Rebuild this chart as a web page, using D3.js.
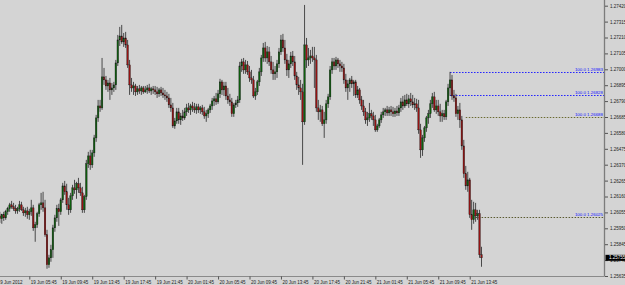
<!DOCTYPE html>
<html>
<head>
<meta charset="utf-8">
<script src="https://cdn.jsdelivr.net/npm/d3@7"></script>
<style>
html, body { margin: 0; padding: 0; background: #d4d4d4; overflow: hidden; }
svg { display: block; font-family: "Liberation Sans", Arial, sans-serif; }
</style>
</head>
<body>
<div id="chart"></div>
<script>
// EURUSD-like M15 bars, 19 Jun 01:45 -> 21 Jun 15:15 (2012)
var startTime = "2012-06-19T01:45";
var barMinutes = 15;

var opens = [
1.26019,1.26032,1.26013,1.26039,1.26019,1.26059,1.26079,1.26105,1.26092,1.26079,
1.26065,1.26079,1.26105,1.26072,1.26052,1.26065,1.26039,1.26059,1.26085,1.25953,
1.25973,1.26046,1.26105,1.26118,1.26085,1.25907,1.25709,1.25755,1.25808,1.25953,
1.26019,1.26079,1.26059,1.26138,1.26230,1.26191,1.26105,1.26072,1.26164,1.26217,
1.26204,1.26244,1.26217,1.26184,1.26072,1.26158,1.26376,1.26428,1.26369,1.26448,
1.26547,1.26679,1.26758,1.26745,1.26950,1.26930,1.26890,1.26910,1.26864,1.26877,
1.26897,1.27042,1.27194,1.27220,1.27181,1.27207,1.27161,1.27029,1.26897,1.26877,
1.26890,1.26851,1.26871,1.26857,1.26877,1.26851,1.26864,1.26877,1.26857,1.26871,
1.26864,1.26851,1.26838,1.26864,1.26844,1.26831,1.26824,1.26811,1.26765,1.26745,
1.26626,1.26659,1.26719,1.26666,1.26692,1.26679,1.26719,1.26745,1.26732,1.26758,
1.26745,1.26732,1.26752,1.26732,1.26745,1.26719,1.26692,1.26706,1.26732,1.26758,
1.26791,1.26805,1.26785,1.26838,1.26917,1.26864,1.26890,1.26824,1.26798,1.26785,
1.26706,1.26765,1.26778,1.26798,1.27022,1.27049,1.26996,1.27029,1.26983,1.26943,
1.26930,1.26824,1.26851,1.26917,1.26983,1.27075,1.27141,1.27075,1.27115,1.27049,
1.26996,1.26970,1.26983,1.27036,1.27115,1.27194,1.27141,1.27062,1.26996,1.27036,
1.27088,1.27049,1.26956,1.26897,1.26877,1.26851,1.26653,1.27161,1.27062,1.27075,
1.27088,1.27075,1.27062,1.26745,1.26719,1.26732,1.26640,1.26666,1.26772,1.26818,
1.26996,1.27049,1.27022,1.27062,1.27036,1.27022,1.27009,1.26930,1.26877,1.26904,
1.26930,1.26904,1.26917,1.26831,1.26864,1.26798,1.26758,1.26719,1.26666,1.26679,
1.26706,1.26692,1.26666,1.26600,1.26626,1.26666,1.26699,1.26719,1.26732,1.26712,
1.26732,1.26719,1.26706,1.26725,1.26712,1.26745,1.26785,1.26758,1.26798,1.26772,
1.26805,1.26785,1.26765,1.26772,1.26745,1.26600,1.26468,1.26547,1.26613,1.26679,
1.26706,1.26772,1.26818,1.26732,1.26758,1.26719,1.26692,1.26706,1.26686,1.26785,
1.26877,1.26930,1.26824,1.26811,1.26706,1.26732,1.26666,1.26494,1.26310,1.26230,
1.26270,1.26039,1.26006,1.26072,1.26032,1.26046,1.25775
];
var highs = [
1.26059,1.26059,1.26046,1.26059,1.26072,1.26092,1.26118,1.26131,1.26118,1.26105,
1.26092,1.26131,1.26125,1.26092,1.26085,1.26092,1.26079,1.26138,1.26105,1.25993,
1.26059,1.26118,1.26184,1.26191,1.26138,1.25940,1.25775,1.25841,1.25973,1.26039,
1.26105,1.26112,1.26151,1.26250,1.26263,1.26244,1.26151,1.26184,1.26237,1.26270,
1.26257,1.26283,1.26250,1.26224,1.26171,1.26402,1.26455,1.26468,1.26468,1.26567,
1.26699,1.26798,1.26798,1.27075,1.27009,1.26956,1.26930,1.26943,1.26910,1.26917,
1.27062,1.27227,1.27280,1.27293,1.27240,1.27247,1.27194,1.27062,1.26943,1.26917,
1.26904,1.26890,1.26897,1.26890,1.26890,1.26890,1.26897,1.26904,1.26884,1.26890,
1.26890,1.26884,1.26877,1.26884,1.26877,1.26864,1.26851,1.26838,1.26811,1.26778,
1.26679,1.26745,1.26745,1.26712,1.26732,1.26745,1.26772,1.26778,1.26772,1.26785,
1.26778,1.26772,1.26772,1.26758,1.26765,1.26752,1.26732,1.26745,1.26772,1.26811,
1.26824,1.26844,1.26864,1.26937,1.26930,1.26917,1.26917,1.26877,1.26838,1.26811,
1.26778,1.26798,1.26824,1.27049,1.27069,1.27075,1.27062,1.27055,1.27022,1.26996,
1.26956,1.26877,1.26930,1.27009,1.27095,1.27174,1.27181,1.27154,1.27148,1.27088,
1.27049,1.27022,1.27062,1.27141,1.27227,1.27234,1.27194,1.27102,1.27062,1.27115,
1.27121,1.27088,1.26983,1.26950,1.26930,1.26904,1.27425,1.27207,1.27141,1.27128,
1.27148,1.27148,1.27095,1.26798,1.26765,1.26758,1.26719,1.26798,1.26838,1.27022,
1.27075,1.27075,1.27082,1.27075,1.27062,1.27049,1.27036,1.26970,1.26930,1.26943,
1.26956,1.26930,1.26930,1.26890,1.26877,1.26824,1.26798,1.26745,1.26719,1.26778,
1.26732,1.26719,1.26699,1.26640,1.26679,1.26719,1.26745,1.26745,1.26758,1.26752,
1.26758,1.26752,1.26745,1.26758,1.26765,1.26811,1.26824,1.26831,1.26838,1.26831,
1.26844,1.26831,1.26811,1.26805,1.26798,1.26640,1.26567,1.26626,1.26692,1.26732,
1.26798,1.26844,1.26851,1.26798,1.26798,1.26772,1.26732,1.26732,1.26798,1.26904,
1.26983,1.26963,1.26864,1.26838,1.26758,1.26778,1.26692,1.26534,1.26362,1.26323,
1.26283,1.26138,1.26125,1.26118,1.26072,1.26072,1.25828
];
var lows = [
1.25980,1.25986,1.25980,1.25999,1.26006,1.26039,1.26059,1.26079,1.26065,1.26046,
1.26046,1.26059,1.26065,1.26032,1.26026,1.26013,1.26006,1.26032,1.25933,1.25861,
1.25953,1.26026,1.26072,1.26059,1.25894,1.25683,1.25689,1.25729,1.25755,1.25927,
1.25993,1.25966,1.26039,1.26118,1.26171,1.26072,1.26039,1.26052,1.26138,1.26178,
1.26145,1.26184,1.26164,1.26052,1.26052,1.26138,1.26349,1.26336,1.26349,1.26422,
1.26521,1.26653,1.26719,1.26732,1.26897,1.26864,1.26851,1.26798,1.26831,1.26851,
1.26864,1.27022,1.27154,1.27168,1.27148,1.27141,1.27009,1.26831,1.26851,1.26831,
1.26824,1.26831,1.26838,1.26831,1.26838,1.26844,1.26838,1.26844,1.26831,1.26838,
1.26831,1.26811,1.26818,1.26824,1.26811,1.26798,1.26785,1.26745,1.26719,1.26613,
1.26607,1.26640,1.26640,1.26633,1.26659,1.26666,1.26692,1.26712,1.26699,1.26719,
1.26712,1.26706,1.26712,1.26706,1.26699,1.26673,1.26653,1.26679,1.26712,1.26732,
1.26758,1.26765,1.26772,1.26811,1.26831,1.26824,1.26798,1.26772,1.26758,1.26686,
1.26686,1.26745,1.26752,1.26778,1.26983,1.26970,1.26970,1.26963,1.26917,1.26904,
1.26811,1.26798,1.26831,1.26890,1.26956,1.27049,1.27049,1.27036,1.27022,1.26970,
1.26930,1.26930,1.26943,1.27009,1.27095,1.27115,1.27036,1.26956,1.26943,1.27009,
1.27022,1.26930,1.26864,1.26831,1.26798,1.26369,1.26633,1.27009,1.27022,1.27036,
1.27049,1.26877,1.26719,1.26666,1.26653,1.26626,1.26547,1.26640,1.26745,1.26798,
1.26970,1.26996,1.26996,1.27009,1.26983,1.26983,1.26904,1.26851,1.26798,1.26851,
1.26877,1.26824,1.26811,1.26811,1.26772,1.26732,1.26692,1.26640,1.26626,1.26653,
1.26666,1.26626,1.26587,1.26587,1.26613,1.26646,1.26679,1.26692,1.26692,1.26692,
1.26692,1.26686,1.26686,1.26692,1.26692,1.26719,1.26732,1.26745,1.26758,1.26745,
1.26758,1.26745,1.26732,1.26719,1.26574,1.26415,1.26428,1.26521,1.26587,1.26640,
1.26679,1.26745,1.26719,1.26706,1.26692,1.26653,1.26653,1.26666,1.26666,1.26758,
1.26824,1.26798,1.26785,1.26686,1.26666,1.26613,1.26468,1.26283,1.26204,1.26191,
1.26019,1.25940,1.25980,1.25993,1.26006,1.25755,1.25696
];
var closes = [
1.26032,1.26013,1.26039,1.26019,1.26059,1.26079,1.26105,1.26092,1.26079,1.26065,
1.26079,1.26105,1.26072,1.26052,1.26065,1.26039,1.26059,1.26085,1.25953,1.25973,
1.26046,1.26105,1.26118,1.26085,1.25907,1.25709,1.25755,1.25808,1.25953,1.26019,
1.26079,1.26059,1.26138,1.26230,1.26191,1.26105,1.26072,1.26164,1.26217,1.26204,
1.26244,1.26217,1.26184,1.26072,1.26158,1.26376,1.26428,1.26369,1.26448,1.26547,
1.26679,1.26758,1.26745,1.26950,1.26930,1.26890,1.26910,1.26864,1.26877,1.26897,
1.27042,1.27194,1.27220,1.27181,1.27207,1.27161,1.27029,1.26897,1.26877,1.26890,
1.26851,1.26871,1.26857,1.26877,1.26851,1.26864,1.26877,1.26857,1.26871,1.26864,
1.26851,1.26838,1.26864,1.26844,1.26831,1.26824,1.26811,1.26765,1.26745,1.26626,
1.26659,1.26719,1.26666,1.26692,1.26679,1.26719,1.26745,1.26732,1.26758,1.26745,
1.26732,1.26752,1.26732,1.26745,1.26719,1.26692,1.26706,1.26732,1.26758,1.26791,
1.26805,1.26785,1.26838,1.26917,1.26864,1.26890,1.26824,1.26798,1.26785,1.26706,
1.26765,1.26778,1.26798,1.27022,1.27049,1.26996,1.27029,1.26983,1.26943,1.26930,
1.26824,1.26851,1.26917,1.26983,1.27075,1.27141,1.27075,1.27115,1.27049,1.26996,
1.26970,1.26983,1.27036,1.27115,1.27194,1.27141,1.27062,1.26996,1.27036,1.27088,
1.27049,1.26956,1.26897,1.26877,1.26851,1.26653,1.27161,1.27062,1.27075,1.27088,
1.27075,1.27062,1.26745,1.26719,1.26732,1.26640,1.26666,1.26772,1.26818,1.26996,
1.27049,1.27022,1.27062,1.27036,1.27022,1.27009,1.26930,1.26877,1.26904,1.26930,
1.26904,1.26917,1.26831,1.26864,1.26798,1.26758,1.26719,1.26666,1.26679,1.26706,
1.26692,1.26666,1.26600,1.26626,1.26666,1.26699,1.26719,1.26732,1.26712,1.26732,
1.26719,1.26706,1.26725,1.26712,1.26745,1.26785,1.26758,1.26798,1.26772,1.26805,
1.26785,1.26765,1.26772,1.26745,1.26600,1.26468,1.26547,1.26613,1.26679,1.26706,
1.26772,1.26818,1.26732,1.26758,1.26719,1.26692,1.26706,1.26686,1.26785,1.26877,
1.26930,1.26824,1.26811,1.26706,1.26732,1.26666,1.26494,1.26310,1.26230,1.26270,
1.26039,1.26006,1.26072,1.26032,1.26046,1.25775,1.25755
];

var priceTicks = [1.27420, 1.27315, 1.27210, 1.27105, 1.27000, 1.26895, 1.26790, 1.26685, 1.26580,
	1.26475, 1.26370, 1.26265, 1.26160, 1.26055, 1.25950, 1.25845, 1.25740, 1.25635];

var timeTicks = ["2012-06-19T01:45", "2012-06-19T05:45", "2012-06-19T09:45", "2012-06-19T13:45",
	"2012-06-19T17:45", "2012-06-19T21:45", "2012-06-20T01:45", "2012-06-20T05:45",
	"2012-06-20T09:45", "2012-06-20T13:45", "2012-06-20T17:45", "2012-06-20T21:45",
	"2012-06-21T01:45", "2012-06-21T05:45", "2012-06-21T09:45", "2012-06-21T13:45"];
var timeTickLabels = ["19 Jun 2012", "19 Jun 05:45", "19 Jun 09:45", "19 Jun 13:45",
	"19 Jun 17:45", "19 Jun 21:45", "20 Jun 01:45", "20 Jun 05:45",
	"20 Jun 09:45", "20 Jun 13:45", "20 Jun 17:45", "20 Jun 21:45",
	"21 Jun 01:45", "21 Jun 05:45", "21 Jun 09:45", "21 Jun 13:45"];

// horizontal level objects
var levelPrices = [1.26983, 1.26828, 1.26688, 1.26025];
var levelStarts = ["2012-06-21T11:15", "2012-06-21T11:15", "2012-06-21T13:15", "2012-06-21T14:30"];
var levelLabels = ["100.0 1.26983", "100.0 1.26828", "100.0 1.26688", "100.0 1.26025"];
var levelColors = ["#2020ff", "#2020ff", "#6a6a30", "#5a5a30"];

var lastPrice = 1.25755;

var W = 625, H = 285,
	plotRight = 604,
	plotBottom = 276;

var parse = d3.timeParse("%Y-%m-%dT%H:%M");
var t0 = parse(startTime);

var bars = closes.map(function(c, i) {
	return {t: d3.timeMinute.offset(t0, i * barMinutes), o: opens[i], h: highs[i], l: lows[i], c: c};
});

var x = d3.scaleTime()
	.domain([t0, bars[bars.length - 1].t])
	.range([-2.15, 481.5]);

var y = d3.scaleLinear()
	.domain([1.25635, 1.27420])
	.range([plotBottom, 5.7]);

var svg = d3.select("#chart").append("svg")
	.attr("width", W)
	.attr("height", H);

svg.append("rect")
	.attr("width", W).attr("height", H)
	.attr("fill", "#d4d4d4");

var plot = svg.append("g");

// level lines (behind candles)
var levels = plot.selectAll(".level")
	.data(levelPrices)
	.enter().append("g")
	.attr("class", "level");
levels.append("line")
	.attr("x1", function(d, i) { return x(parse(levelStarts[i])); })
	.attr("x2", plotRight)
	.attr("y1", function(d) { return Math.round(y(d)) + 0.5; })
	.attr("y2", function(d) { return Math.round(y(d)) + 0.5; })
	.attr("stroke", function(d, i) { return levelColors[i]; })
	.attr("stroke-width", 1)
	.attr("stroke-dasharray", "1.5,1.5");
levels.append("text")
	.attr("x", plotRight - 1)
	.attr("y", function(d) { return Math.round(y(d)) - 0.6; })
	.attr("text-anchor", "end")
	.attr("fill", "#1010ff")
	.style("font-size", "4.4px")
	.text(function(d, i) { return levelLabels[i]; });

// candles
var candle = plot.selectAll(".candle")
	.data(bars)
	.enter().append("g")
	.attr("class", "candle");

candle.append("line")
	.attr("x1", function(d) { return x(d.t); })
	.attr("x2", function(d) { return x(d.t); })
	.attr("y1", function(d) { return y(d.h); })
	.attr("y2", function(d) { return y(d.l); })
	.attr("stroke", "#303030")
	.attr("stroke-width", 0.85);

candle.append("rect")
	.attr("x", function(d) { return x(d.t) - 0.8; })
	.attr("width", 1.6)
	.attr("y", function(d) { return y(Math.max(d.o, d.c)); })
	.attr("height", function(d) { return Math.max(0.8, Math.abs(y(d.o) - y(d.c))); })
	.attr("fill", function(d) { return d.c >= d.o ? "#0d5f0d" : "#961212"; })
	.attr("stroke", "#1a1a1a")
	.attr("stroke-width", 0.35);

// frame
svg.append("line")
	.attr("x1", plotRight + 0.5).attr("x2", plotRight + 0.5)
	.attr("y1", 0).attr("y2", plotBottom + 0.5)
	.attr("stroke", "#7c7c7c").attr("stroke-width", 1.3);
svg.append("line")
	.attr("x1", 0).attr("x2", plotRight + 0.5)
	.attr("y1", plotBottom + 0.5).attr("y2", plotBottom + 0.5)
	.attr("stroke", "#8a8a8a").attr("stroke-width", 1);

// price axis
var yAxis = d3.axisRight(y)
	.tickValues(priceTicks)
	.tickSize(3)
	.tickSizeOuter(0)
	.tickPadding(2)
	.tickFormat(d3.format(".5f"));

var gy = svg.append("g")
	.attr("transform", "translate(" + (plotRight + 1) + ",0)")
	.call(yAxis);
gy.select(".domain").remove();
gy.selectAll(".tick line").attr("stroke", "#333").attr("stroke-width", 0.8);
gy.selectAll(".tick text")
	.attr("fill", "#222")
	.attr("font-family", "Liberation Sans, Arial, sans-serif")
	.style("font-size", "4.5px");

// time axis
var xAxis = d3.axisBottom(x)
	.tickValues(timeTicks.map(parse))
	.tickSize(3)
	.tickSizeOuter(0)
	.tickPadding(1)
	.tickFormat(function(d, i) { return timeTickLabels[i]; });

var gx = svg.append("g")
	.attr("transform", "translate(0," + (plotBottom + 0.5) + ")")
	.call(xAxis);
gx.select(".domain").remove();
gx.selectAll(".tick line").attr("stroke", "#333").attr("stroke-width", 0.8);
gx.selectAll(".tick text")
	.attr("text-anchor", "start")
	.attr("x", function(d, i) { return i === 0 ? -0.5 : 1; })
	.attr("fill", "#222")
	.attr("font-family", "Liberation Sans, Arial, sans-serif")
	.style("font-size", "4.5px");

// current price marker
var py = y(lastPrice);
svg.append("rect")
	.attr("x", plotRight + 1.5)
	.attr("y", py - 3)
	.attr("width", W - plotRight - 1.5)
	.attr("height", 6)
	.attr("fill", "#000");
svg.append("text")
	.attr("x", plotRight + 5)
	.attr("y", py)
	.attr("dy", "0.35em")
	.attr("fill", "#fff")
	.style("font-size", "4.5px")
	.text(d3.format(".5f")(lastPrice));
</script>
</body>
</html>
